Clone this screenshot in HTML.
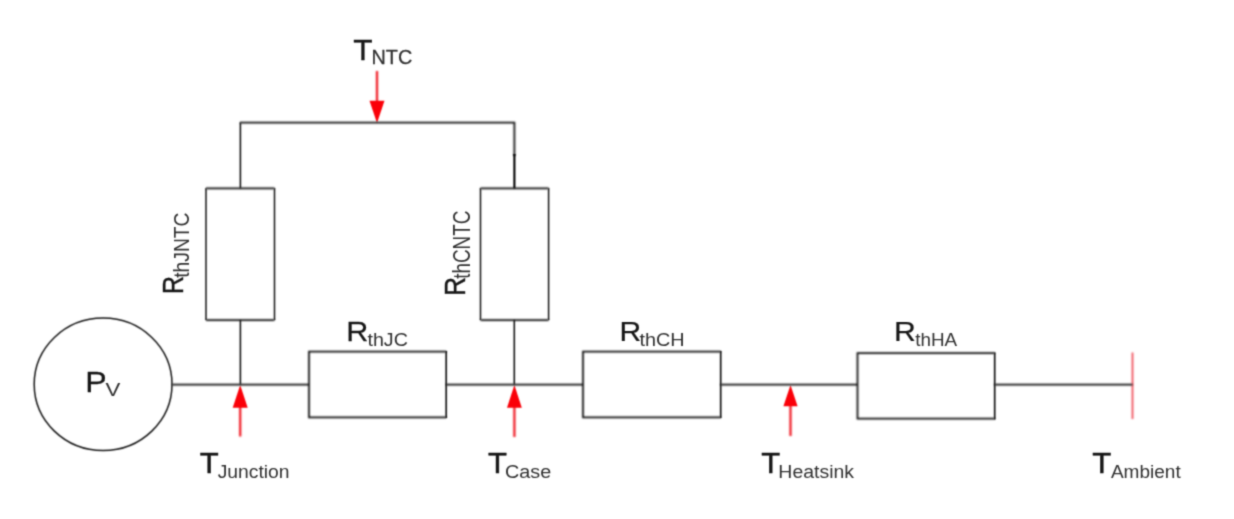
<!DOCTYPE html>
<html>
<head>
<meta charset="utf-8">
<title>Thermal equivalent circuit</title>
<style>
  html, body { margin: 0; padding: 0; background: #ffffff; }
  body { width: 1234px; height: 519px; overflow: hidden; }
  svg { display: block; }
  .soft { filter: url(#fsoft); }
  .crisp { filter: url(#fcrisp); }
  .txt { filter: url(#ftxt); }
  .w { stroke: #0c0c0c; stroke-width: 1.75; fill: none; }
  .d { stroke: #141414; stroke-width: 1.6; fill: none; }
  .r { stroke: #f0141e; stroke-width: 1.5; fill: none; }
  .rh { fill: #fa0008; stroke: none; }
  text { font-family: "Liberation Sans", Arial, sans-serif; fill: #161616; stroke: #161616; stroke-width: 0.35; }
  .m { font-size: 27.6px; }
  .s { font-size: 19px; fill: #303030; stroke: #303030; stroke-width: 0; }
</style>
</head>
<body>
<svg width="1234" height="519" viewBox="0 0 1234 519">
  <defs>
    <filter id="fsoft" filterUnits="userSpaceOnUse" x="0" y="0" width="1234" height="519" color-interpolation-filters="sRGB"><feConvolveMatrix order="5" kernelMatrix="0.0030 0.0133 0.0219 0.0133 0.0030 0.0133 0.0596 0.0983 0.0596 0.0133 0.0219 0.0983 0.1621 0.0983 0.0219 0.0133 0.0596 0.0983 0.0596 0.0133 0.0030 0.0133 0.0219 0.0133 0.0030" edgeMode="none" preserveAlpha="false"/></filter>
    <filter id="fcrisp" filterUnits="userSpaceOnUse" x="0" y="0" width="1234" height="519" color-interpolation-filters="sRGB"><feConvolveMatrix order="5" kernelMatrix="0.0001 0.0025 0.0065 0.0025 0.0001 0.0025 0.0446 0.1171 0.0446 0.0025 0.0065 0.1171 0.3071 0.1171 0.0065 0.0025 0.0446 0.1171 0.0446 0.0025 0.0001 0.0025 0.0065 0.0025 0.0001" edgeMode="none" preserveAlpha="false"/></filter>
    <filter id="ftxt" filterUnits="userSpaceOnUse" x="0" y="0" width="1234" height="519" color-interpolation-filters="sRGB"><feConvolveMatrix order="5" kernelMatrix="0.0000 0.0006 0.0023 0.0006 0.0000 0.0006 0.0306 0.1125 0.0306 0.0006 0.0023 0.1125 0.4132 0.1125 0.0023 0.0006 0.0306 0.1125 0.0306 0.0006 0.0000 0.0006 0.0023 0.0006 0.0000" edgeMode="none" preserveAlpha="false"/></filter>
  </defs>
  <rect x="0" y="0" width="1234" height="519" fill="#ffffff"/>

  <!-- red markers -->
  <g class="soft">
    <path class="r" d="M377 71V104 M240.2 404V436.5 M514.4 404V437 M790.5 404V436" style="stroke-width:2.2"/>
    <path d="M1132.5 352.5V419" stroke="#ee3a46" stroke-width="1.6" fill="none"/>
  </g>
  <g class="crisp">
    <path class="rh" d="M369.5 100.8H384.5L377 123Z"/>
    <path class="rh" d="M240.2 385L247.7 407.8H232.7Z"/>
    <path class="rh" d="M514.4 385L521.8 407.8H507Z"/>
    <path class="rh" d="M790.5 385L797.6 406.3H783.4Z"/>
  </g>

  <!-- wide, soft grey strokes: horizontal wires and horizontal resistor outlines -->
  <g class="soft">
    <path class="w" d="M172 384.5H309 M446 384.5H583 M720.5 384.5H857.5 M994.5 384.5H1132.5"/>
    <path class="w" d="M240 122.6H514.4V156"/>
    <path class="w" d="M206 188.3H274.5 M206 320H274.5 M480.5 188.3H548.6 M480.5 320H548.6"/>
    <path class="w" d="M446.2 351.6H309V417.3H446.2"/>
    <path class="w" d="M720.7 351.6H583V417.3H720.7"/>
    <path class="w" d="M994.7 353.2H857.5V418.7H994.7"/>
  </g>

  <!-- darker, thinner strokes: vertical connectors, vertical resistor sides, source -->
  <g class="crisp">
    <ellipse class="d" cx="103.1" cy="384.3" rx="68.9" ry="66.2" style="stroke-width:1.5"/>
    <path class="d" d="M240.4 122.6V188.3 M240.4 320V384.5 M514.3 320V384.5"/>
    <path class="d" d="M514.4 154V188.3" style="stroke-width:2.1;stroke:#000"/>
    <path class="d" d="M446.2 350.9V418 M720.7 350.9V418 M994.7 352.5V419.4" style="stroke-width:1.7"/>
    <path class="d" d="M206 188.3V320 M274.5 188.3V320 M480.5 188.3V320 M548.6 188.3V320" style="stroke-width:1.5"/>
  </g>

  <!-- labels -->
  <g class="txt">
    <text class="m" style="font-size:29.0px;stroke-width:0.3" transform="translate(353.20 60.1) scale(1.091 1)">T</text>
    <text class="s" style="font-size:20.0px;stroke-width:0.25" transform="translate(371.45 64.2) scale(0.993 1)">NTC</text>
    <text class="m" style="font-size:30.4px;stroke-width:0.25" transform="translate(85.24 392.2) scale(1.058 1)">P</text>
    <text class="s" style="font-size:19.0px;stroke-width:0.05" transform="translate(105.59 396.2) scale(1.170 1)">V</text>
    <text class="m" style="font-size:28.0px;stroke-width:0.25" transform="translate(346.17 341.2) scale(1.091 1)">R</text>
    <text class="s" style="font-size:19.0px;stroke-width:0.0" transform="translate(367.45 346.2) scale(1.037 1)">thJC</text>
    <text class="m" style="font-size:28.0px;stroke-width:0.25" transform="translate(619.61 341.2) scale(1.073 1)">R</text>
    <text class="s" style="font-size:19.0px;stroke-width:0.0" transform="translate(639.45 346.2) scale(1.044 1)">thCH</text>
    <text class="m" style="font-size:28.0px;stroke-width:0.25" transform="translate(894.00 341.2) scale(1.079 1)">R</text>
    <text class="s" style="font-size:19.0px;stroke-width:0.0" transform="translate(915.17 346.2) scale(0.993 1)">thHA</text>
    <text class="m" style="font-size:29.6px;stroke-width:0.45" transform="translate(199.69 473.2) scale(1.048 1)">T</text>
    <text class="s" style="font-size:19.2px;stroke-width:0.0" transform="translate(217.66 478.4) scale(1.006 1)">Junction</text>
    <text class="m" style="font-size:29.6px;stroke-width:0.45" transform="translate(487.89 473.2) scale(1.048 1)">T</text>
    <text class="s" style="font-size:19.2px;stroke-width:0.0" transform="translate(504.96 478.4) scale(1.032 1)">Case</text>
    <text class="m" style="font-size:29.6px;stroke-width:0.45" transform="translate(761.19 473.2) scale(1.048 1)">T</text>
    <text class="s" style="font-size:19.2px;stroke-width:0.0" transform="translate(778.36 478.2) scale(1.013 1)">Heatsink</text>
    <text class="m" style="font-size:29.6px;stroke-width:0.45" transform="translate(1092.29 473.2) scale(1.054 1)">T</text>
    <text class="s" style="font-size:19.2px;stroke-width:0.0" transform="translate(1110.91 478.2) scale(0.992 1)">Ambient</text>
    <text class="m" style="stroke-width:0.4" transform="translate(183.4 293.99) rotate(-90) scale(0.903 1.07)">R</text>
    <text class="s" transform="translate(188.9 277.74) rotate(-90) scale(1.011 1.2)">thJNTC</text>
    <text class="m" style="stroke-width:0.4" transform="translate(464.8 296.02) rotate(-90) scale(0.958 1.07)">R</text>
    <text class="s" transform="translate(469.9 278.83) rotate(-90) scale(0.995 1.22)">thCNTC</text>
  </g>
</svg>
</body>
</html>
